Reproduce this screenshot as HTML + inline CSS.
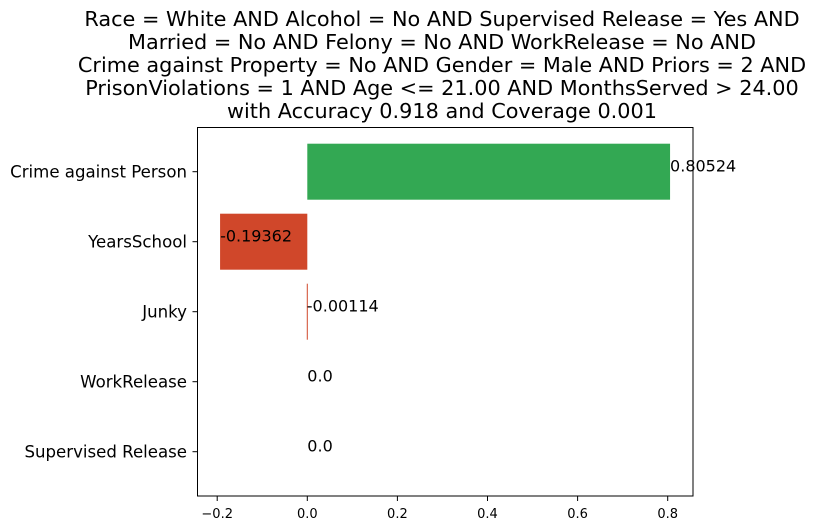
<!DOCTYPE html>
<html><head><meta charset="utf-8"><style>
html,body{margin:0;padding:0;background:#fff;}
svg{display:block;font-family:"DejaVu Sans","Liberation Sans",sans-serif;}
</style></head><body>
<svg id="chart" width="823" height="530" xmlns="http://www.w3.org/2000/svg">
<g id="title" font-size="20.8" text-anchor="middle" fill="#000">
<text x="442" y="26">Race = White AND Alcohol = No AND Supervised Release = Yes AND</text>
<text x="442" y="49">Married = No AND Felony = No AND WorkRelease = No AND</text>
<text x="442" y="72">Crime against Property = No AND Gender = Male AND Priors = 2 AND</text>
<text x="442" y="95">PrisonViolations = 1 AND Age &lt;= 21.00 AND MonthsServed &gt; 24.00</text>
<text x="442" y="118">with Accuracy 0.918 and Coverage 0.001</text>
</g>
<g id="bars"></g>
<g id="labels"></g>
<g id="yticks"></g>
<g id="xticks"></g>
<rect x="197.5" y="127.5" width="495.5" height="368.5" fill="none" stroke="#000" stroke-width="1"/>
</svg>
<script>
const categories = ["Crime against Person","YearsSchool","Junky","WorkRelease","Supervised Release"];
const values = [0.80524, -0.19362, -0.00114, 0.0, 0.0];
const valueLabels = ["0.80524","-0.19362","-0.00114","0.0","0.0"];
const xTicks = [-0.2, 0.0, 0.2, 0.4, 0.6, 0.8];
const xTickLabels = ["\u22120.2","0.0","0.2","0.4","0.6","0.8"];

const NS = "http://www.w3.org/2000/svg";
const x = v => 307.3 + v * 450.5;
const y = i => 171.7 + i * 70;
const bh = 56;
const bars = document.getElementById('bars');
const labels = document.getElementById('labels');
const yt = document.getElementById('yticks');
const xt = document.getElementById('xticks');
function mk(tag, attrs, parent){const e=document.createElementNS(NS,tag);for(const k in attrs)e.setAttribute(k,attrs[k]);parent.appendChild(e);return e;}
categories.forEach((c,i)=>{
  const v = values[i];
  const x0 = Math.min(x(0), x(v)), w = Math.abs(x(v)-x(0));
  const r = mk('rect',{x:x0,y:y(i)-bh/2,width:Math.max(w,v!==0?1:0),height:bh,fill:v>0?'#33a853':'#d0472a'},bars);
  
  
  const t = mk('text',{x:x(v),y:y(i),'font-size':16,fill:'#000'},labels);
  t.textContent = valueLabels[i];
  
  
  const tk = mk('line',{x1:197.5,x2:192.5,y1:y(i),y2:y(i),stroke:'#000'},yt);
  
  
  const tl = mk('text',{x:187,y:y(i)+6,'font-size':16.6,'text-anchor':'end',fill:'#000'},yt);
  tl.textContent = c;
  
  
});
xTicks.forEach((v,i)=>{
  const tk = mk('line',{x1:x(v),x2:x(v),y1:496,y2:501,stroke:'#000'},xt);
  
  
  const tl = mk('text',{x:x(v),y:518,'font-size':13,'text-anchor':'middle',fill:'#000'},xt);
  tl.textContent = xTickLabels[i];
  
  
});
</script>
</body></html>
